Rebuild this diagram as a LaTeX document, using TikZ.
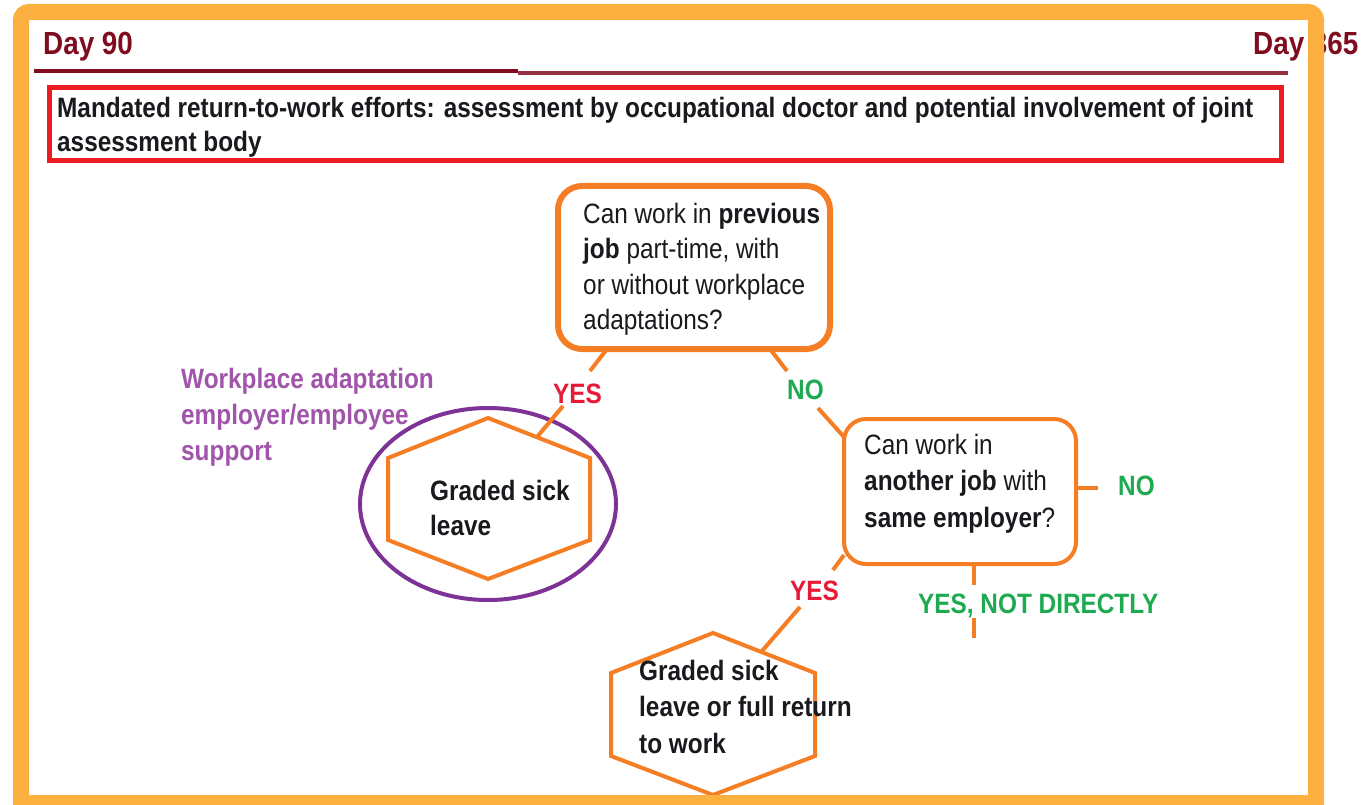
\documentclass[tikz,border=0pt]{standalone}
\usepackage{fontspec}
\setmainfont{Liberation Sans}[FakeStretch=0.87]
\usetikzlibrary{shapes.geometric}
\definecolor{frameor}{RGB}{251,176,64}
\definecolor{dayred}{RGB}{128,12,32}
\definecolor{boxred}{RGB}{237,28,36}
\definecolor{shapeor}{RGB}{245,125,35}
\definecolor{yesred}{RGB}{232,25,55}
\definecolor{nogreen}{RGB}{30,170,80}
\definecolor{ellpurple}{RGB}{125,50,150}
\definecolor{txtpurple}{RGB}{160,85,170}
\definecolor{txtdark}{RGB}{25,25,30}
\tikzset{
  txt/.style={inner sep=0pt, anchor=base west, align=left, text=txtdark},
  fs/.style={font=\fontsize{28}{#1}\selectfont},
  lbl/.style={inner sep=0pt, anchor=base west, font=\fontsize{28}{34}\selectfont\bfseries},
  qbox/.style={draw=shapeor, rounded corners=#1, inner sep=0pt, outer sep=0pt},
  conn/.style={draw=shapeor, line width=4pt},
  hexa/.style={draw=shapeor, line width=4pt, line join=miter},
}
\begin{document}
\begin{tikzpicture}[x=1pt,y=-1pt]
\useasboundingbox (0,0) rectangle (1368,805);
\clip (0,0) rectangle (1368,805);
\fill[white] (0,0) rectangle (1368,805);

% header
\node[lbl, text=dayred, font=\fontsize{32}{36}\selectfont\bfseries] (d90) at (43,55) {Day 90};
\node[lbl, text=dayred, font=\fontsize{32}{36}\selectfont\bfseries] (d365) at (1253,55) {Day 365};
\draw[dayred, line width=4pt] (34,71.5) -- (518,71.5);
\draw[dayred!85, line width=3.5pt] (518,73) -- (1288,73);

% mandated box (node base = last line baseline)
\node[draw=boxred, line width=5pt, minimum width=1232pt, minimum height=73pt, inner sep=0pt] (mand) at (665.5,124) {};
\node[txt, font=\fontsize{28}{34}\selectfont\bfseries] (mandt) at (57,152) {Mandated return-to-work efforts: assessment by occupational doctor and potential involvement of joint\\assessment body};

% question box 1
\node[qbox=24pt, line width=6pt, minimum width=272pt, minimum height=163pt] (b1) at (694,267.5) {};
\node[txt, fs=35.5] (b1t) at (583,329.5) {Can work in \textbf{previous}\\\textbf{job} part-time, with\\or without workplace\\adaptations?};

% question box 2
\node[qbox=22pt, line width=4pt, minimum width=232pt, minimum height=145pt] (b2) at (960,491.5) {};
\node[txt, fs=36.5] (b2t) at (864,527) {Can work in\\\textbf{another job} with\\\textbf{same employer}?};

% ellipse and hexagon 1
\node[ellipse, draw=ellpurple, line width=4pt, minimum width=256pt, minimum height=192pt, inner sep=0pt] (ell) at (488,504) {};
\draw[hexa] (488,418) -- (590,458) -- (590,540) -- (488,579) -- (388,540) -- (388,458) -- cycle;
\node[txt, font=\fontsize{28}{35}\selectfont\bfseries] (h1t) at (430,535) {Graded sick\\leave};
\node[txt, text=txtpurple, font=\fontsize{28}{36}\selectfont\bfseries] (wp) at (181,460) {Workplace adaptation\\employer/employee\\support};

% hexagon 2
\draw[hexa] (713,633) -- (815,673) -- (815,756) -- (713,795) -- (611,756) -- (611,673) -- cycle;
\node[txt, font=\fontsize{28}{36.5}\selectfont\bfseries] (h2t) at (639,753) {Graded sick\\leave or full return\\to work};

% labels
\node[lbl, text=yesred] (yes1) at (553,403) {YES};
\node[lbl, text=nogreen] (no1) at (787,399) {NO};
\node[lbl, text=yesred] (yes2) at (790,600) {YES};
\node[lbl, text=nogreen] (no2) at (1118,495) {NO};
\node[lbl, text=nogreen] (ynd) at (918,613) {YES, NOT DIRECTLY};

% connector end points
\coordinate (y1a) at (590,371);
\coordinate (y1b) at (563,406);
\coordinate (h1e) at (537,437);
\coordinate (n1a) at (787,371);
\coordinate (n1b) at (818,408);
\coordinate (y2a) at (833,570);
\coordinate (y2b) at (800,607);
\coordinate (h2e) at (762,651);
\coordinate (n2a) at (1098,488);
\coordinate (yd0) at (974,585);
\coordinate (yd1) at (974,618);
\coordinate (yd2) at (974,638);

% connectors
\draw[conn] ([xshift=49pt]b1.south west) -- (y1a);
\draw[conn] (y1b) -- (h1e);
\draw[conn] ([xshift=-60pt]b1.south east) -- (n1a);
\draw[conn] (n1b) -- ([yshift=-18pt]b2.north west);
\draw[conn] ([yshift=9pt]b2.south west) -- (y2a);
\draw[conn] (y2b) -- (h2e);
\draw[conn] ([yshift=3.5pt]b2.east) -- (n2a);
\draw[conn] ([xshift=14pt]b2.south) -- (yd0);
\draw[conn] (yd1) -- (yd2);

% outer frame
\draw[frameor, line width=16pt] (21,830) [rounded corners=8pt] -- (21,12) -- (1316,12) [sharp corners] -- (1316,830);
\fill[frameor] (13,795) rectangle (1324,805);
\end{tikzpicture}
\end{document}
